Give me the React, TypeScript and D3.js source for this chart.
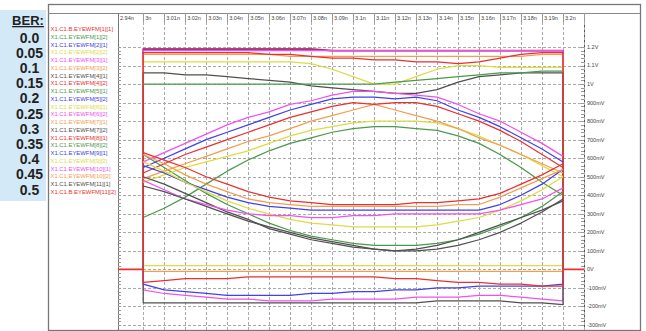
import * as d3 from 'd3';

// BER panel
const berLevels = ['0.0', '0.05', '0.1', '0.15', '0.2', '0.25', '0.3', '0.35', '0.4', '0.45', '0.5'];

// time axis (ns)
const timeLabels = ['2.94n', '3n', '3.01n', '3.02n', '3.03n', '3.04n', '3.05n', '3.06n', '3.07n', '3.08n', '3.09n', '3.1n', '3.11n', '3.12n', '3.13n', '3.14n', '3.15n', '3.16n', '3.17n', '3.18n', '3.19n', '3.2n'];
const gridTimes = [3.0, 3.01, 3.02, 3.03, 3.04, 3.05, 3.06, 3.07, 3.08, 3.09, 3.1, 3.11, 3.12, 3.13, 3.14, 3.15, 3.16, 3.17, 3.18, 3.19, 3.2, 3.21];
const sampleTimes = [3.0, 3.01, 3.02, 3.03, 3.04, 3.05, 3.06, 3.07, 3.08, 3.09, 3.1, 3.11, 3.12, 3.13, 3.14, 3.15, 3.16, 3.17, 3.18, 3.19, 3.2];

// voltage axis (V)
const voltTicks = [1.2, 1.1, 1.0, 0.9, 0.8, 0.7, 0.6, 0.5, 0.4, 0.3, 0.2, 0.1, 0, -0.1, -0.2, -0.3];
const voltLabels = ['1.2V', '1.1V', '1V', '900mV', '800mV', '700mV', '600mV', '500mV', '400mV', '300mV', '200mV', '100mV', '0V', '-100mV', '-200mV', '-300mV'];

// contour values at sampleTimes
const red1Top = [1.19, 1.19, 1.19, 1.19, 1.19, 1.19, 1.19, 1.19, 1.19, 1.18, 1.18, 1.18, 1.18, 1.18, 1.18, 1.18, 1.18, 1.18, 1.18, 1.18, 1.18];
const greenUpper = [0.28, 0.33, 0.39, 0.46, 0.53, 0.59, 0.64, 0.68, 0.71, 0.74, 0.76, 0.77, 0.77, 0.76, 0.75, 0.72, 0.68, 0.62, 0.55, 0.47, 0.4];
const blueOuterTop = [1.185, 1.185, 1.185, 1.185, 1.185, 1.185, 1.185, 1.185, 1.185, 1.18, 1.18, 1.18, 1.18, 1.18, 1.18, 1.18, 1.18, 1.18, 1.18, 1.18, 1.18];
const blueOuterBottom = [-0.08, -0.11, -0.12, -0.13, -0.14, -0.14, -0.14, -0.14, -0.13, -0.13, -0.12, -0.12, -0.11, -0.11, -0.1, -0.1, -0.09, -0.09, -0.09, -0.09, -0.08];
const yellowOuterTop = [1.12, 1.12, 1.12, 1.12, 1.12, 1.12, 1.12, 1.12, 1.11, 1.08, 1.04, 1.0, 1.0, 1.04, 1.08, 1.1, 1.1, 1.09, 1.09, 1.09, 1.09];
const yellowOuterBottom = [0.02, 0.02, 0.02, 0.02, 0.02, 0.02, 0.02, 0.02, 0.02, 0.02, 0.02, 0.02, 0.02, 0.02, 0.02, 0.02, 0.02, 0.02, 0.02, 0.02, 0.02];
const magentaOuterTop = [1.18, 1.18, 1.18, 1.18, 1.18, 1.18, 1.18, 1.18, 1.18, 1.18, 1.18, 1.18, 1.18, 1.18, 1.18, 1.18, 1.18, 1.18, 1.18, 1.18, 1.18];
const magentaOuterBottom = [-0.11, -0.13, -0.14, -0.15, -0.16, -0.16, -0.17, -0.17, -0.17, -0.16, -0.16, -0.16, -0.16, -0.15, -0.15, -0.15, -0.14, -0.14, -0.15, -0.16, -0.17];
const orangeOuterTop = [1.16, 1.16, 1.16, 1.16, 1.16, 1.16, 1.16, 1.15, 1.15, 1.15, 1.15, 1.15, 1.15, 1.15, 1.15, 1.15, 1.15, 1.15, 1.15, 1.16, 1.16];
const orangeOuterBottom = [-0.01, -0.01, -0.01, -0.01, -0.01, -0.01, -0.01, -0.01, -0.01, -0.01, -0.01, -0.01, -0.01, -0.01, -0.01, -0.01, -0.01, -0.01, -0.01, -0.01, -0.01];
const grayOuterTop = [1.06, 1.06, 1.05, 1.05, 1.04, 1.03, 1.02, 1.01, 0.99, 0.98, 0.97, 0.96, 0.95, 0.95, 0.97, 1.01, 1.04, 1.05, 1.06, 1.06, 1.06];
const grayOuterBottom = [-0.18, -0.18, -0.18, -0.18, -0.18, -0.18, -0.18, -0.18, -0.18, -0.18, -0.18, -0.18, -0.18, -0.18, -0.17, -0.17, -0.17, -0.17, -0.18, -0.18, -0.19];
const redOuterTop = [1.17, 1.17, 1.17, 1.17, 1.17, 1.17, 1.16, 1.16, 1.15, 1.14, 1.14, 1.13, 1.13, 1.12, 1.12, 1.11, 1.12, 1.14, 1.16, 1.17, 1.17];
const redOuterBottom = [-0.07, -0.06, -0.05, -0.05, -0.05, -0.04, -0.04, -0.04, -0.04, -0.04, -0.04, -0.04, -0.05, -0.05, -0.06, -0.07, -0.07, -0.08, -0.08, -0.09, -0.09];
const greenLower = [0.62, 0.55, 0.48, 0.41, 0.35, 0.3, 0.25, 0.21, 0.18, 0.16, 0.14, 0.13, 0.13, 0.13, 0.14, 0.16, 0.19, 0.23, 0.28, 0.34, 0.42];
const blueUpper = [0.55, 0.6, 0.65, 0.7, 0.74, 0.78, 0.82, 0.86, 0.89, 0.92, 0.93, 0.93, 0.92, 0.93, 0.91, 0.86, 0.82, 0.77, 0.71, 0.65, 0.58];
const yellowUpper = [0.47, 0.51, 0.55, 0.58, 0.61, 0.64, 0.68, 0.72, 0.75, 0.77, 0.79, 0.8, 0.8, 0.8, 0.79, 0.76, 0.72, 0.67, 0.62, 0.56, 0.5];
const magentaUpper = [0.58, 0.63, 0.68, 0.73, 0.78, 0.82, 0.85, 0.89, 0.91, 0.94, 0.96, 0.96, 0.95, 0.94, 0.93, 0.89, 0.84, 0.8, 0.74, 0.68, 0.61];
const orangeUpper = [0.49, 0.53, 0.57, 0.61, 0.65, 0.69, 0.72, 0.76, 0.8, 0.83, 0.86, 0.89, 0.86, 0.83, 0.8, 0.76, 0.71, 0.67, 0.62, 0.57, 0.52];
const grayLowerA = [0.5, 0.46, 0.41, 0.36, 0.31, 0.27, 0.22, 0.19, 0.16, 0.14, 0.12, 0.11, 0.1, 0.11, 0.13, 0.16, 0.2, 0.24, 0.28, 0.32, 0.37];
const redUpper = [0.52, 0.57, 0.62, 0.66, 0.7, 0.74, 0.78, 0.82, 0.85, 0.88, 0.9, 0.89, 0.9, 0.9, 0.88, 0.84, 0.8, 0.75, 0.69, 0.62, 0.55];
const greenTop = [1.0, 1.0, 1.0, 1.0, 1.0, 1.0, 1.0, 1.0, 1.0, 1.0, 1.0, 1.0, 1.01, 1.02, 1.03, 1.04, 1.05, 1.06, 1.06, 1.07, 1.07];
const blueLower = [0.56, 0.52, 0.47, 0.43, 0.39, 0.36, 0.34, 0.33, 0.32, 0.32, 0.32, 0.32, 0.32, 0.32, 0.32, 0.32, 0.32, 0.35, 0.4, 0.46, 0.54];
const yellowLower = [0.58, 0.53, 0.47, 0.42, 0.37, 0.33, 0.3, 0.27, 0.25, 0.24, 0.23, 0.23, 0.23, 0.23, 0.24, 0.26, 0.28, 0.32, 0.37, 0.43, 0.5];
const magentaLower = [0.48, 0.43, 0.38, 0.35, 0.32, 0.3, 0.29, 0.29, 0.28, 0.28, 0.29, 0.29, 0.3, 0.3, 0.3, 0.3, 0.3, 0.32, 0.35, 0.38, 0.44];
const orangeLower = [0.62, 0.57, 0.51, 0.46, 0.42, 0.38, 0.36, 0.35, 0.34, 0.34, 0.34, 0.34, 0.34, 0.34, 0.34, 0.35, 0.35, 0.39, 0.44, 0.49, 0.54];
const grayLowerB = [0.45, 0.42, 0.38, 0.34, 0.3, 0.26, 0.23, 0.2, 0.17, 0.15, 0.13, 0.11, 0.1, 0.1, 0.11, 0.13, 0.16, 0.2, 0.25, 0.31, 0.38];
const redLower = [0.63, 0.59, 0.55, 0.5, 0.46, 0.42, 0.39, 0.37, 0.36, 0.35, 0.35, 0.35, 0.35, 0.36, 0.36, 0.37, 0.38, 0.41, 0.46, 0.51, 0.57];

const RED = '#ec2f2f';
const GREEN = '#4a9a4a';
const BLUE = '#4040ee';
const YELLOW = '#dcdc44';
const MAGENTA = '#f052f0';
const ORANGE = '#f59c50';
const BLACK = '#505050';

type Series = {
    name: string;
    color: string;
    kind: 'rect' | 'loop' | 'arc';
    values: number[];
    lower?: number[];
    edge?: number;
};

const series: Series[] = [
    { name: 'X1.C1.B.EYEWFM[1][1]', color: RED, kind: 'rect', values: red1Top, edge: 0 },
    { name: 'X1.C1.EYEWFM[1][2]', color: GREEN, kind: 'arc', values: greenUpper },
    { name: 'X1.C1.EYEWFM[2][1]', color: BLUE, kind: 'loop', values: blueOuterTop, lower: blueOuterBottom },
    { name: 'X1.C1.EYEWFM[2][2]', color: YELLOW, kind: 'loop', values: yellowOuterTop, lower: yellowOuterBottom },
    { name: 'X1.C1.EYEWFM[3][1]', color: MAGENTA, kind: 'loop', values: magentaOuterTop, lower: magentaOuterBottom },
    { name: 'X1.C1.EYEWFM[3][2]', color: ORANGE, kind: 'loop', values: orangeOuterTop, lower: orangeOuterBottom },
    { name: 'X1.C1.EYEWFM[4][1]', color: BLACK, kind: 'loop', values: grayOuterTop, lower: grayOuterBottom },
    { name: 'X1.C1.EYEWFM[4][2]', color: RED, kind: 'loop', values: redOuterTop, lower: redOuterBottom },
    { name: 'X1.C1.EYEWFM[5][1]', color: GREEN, kind: 'arc', values: greenLower },
    { name: 'X1.C1.EYEWFM[5][2]', color: BLUE, kind: 'arc', values: blueUpper },
    { name: 'X1.C1.EYEWFM[6][1]', color: YELLOW, kind: 'arc', values: yellowUpper },
    { name: 'X1.C1.EYEWFM[6][2]', color: MAGENTA, kind: 'arc', values: magentaUpper },
    { name: 'X1.C1.EYEWFM[7][1]', color: ORANGE, kind: 'arc', values: orangeUpper },
    { name: 'X1.C1.EYEWFM[7][2]', color: BLACK, kind: 'arc', values: grayLowerA },
    { name: 'X1.C1.EYEWFM[8][1]', color: RED, kind: 'arc', values: redUpper },
    { name: 'X1.C1.EYEWFM[8][2]', color: GREEN, kind: 'arc', values: greenTop },
    { name: 'X1.C1.EYEWFM[9][1]', color: BLUE, kind: 'arc', values: blueLower },
    { name: 'X1.C1.EYEWFM[9][2]', color: YELLOW, kind: 'arc', values: yellowLower },
    { name: 'X1.C1.EYEWFM[10][1]', color: MAGENTA, kind: 'arc', values: magentaLower },
    { name: 'X1.C1.EYEWFM[10][2]', color: ORANGE, kind: 'arc', values: orangeLower },
    { name: 'X1.C1.EYEWFM[11][1]', color: BLACK, kind: 'arc', values: grayLowerB },
    { name: 'X1.C1.B.EYEWFM[11][2]', color: RED, kind: 'arc', values: redLower },
];

const frameLeft = 48;
const frameRight = 640;
const frameTop = 4;
const headerLine = 13;
const plotTop = 22;
const plotBottom = 330;
const plotLeft = 118;
const plotRight = 584;

export default function App() {
    const x = d3.scaleLinear().domain([2.988, 3.21]).range([plotLeft, plotRight]);
    const y = d3.scaleLinear().domain([-0.3, 1.2]).range([325, 47]);
    const line = d3
        .line<[number, number]>()
        .x(d => x(d[0]))
        .y(d => y(d[1]));

    const pts = (vals: number[]) => sampleTimes.map((t, i) => [t, vals[i]] as [number, number]);

    function pathFor(s: Series) {
        if (s.kind === 'rect') {
            const [t0, t1] = x.domain();
            const e = s.edge ?? 0;
            return line([[t0, e], [sampleTimes[0], e], ...pts(s.values), [sampleTimes[sampleTimes.length - 1], e], [t1, e]]);
        }
        if (s.kind === 'loop' && s.lower) {
            return line([...pts(s.values), ...pts(s.lower).reverse()]) + 'Z';
        }
        return line(pts(s.values));
    }

    const cellEdges = [plotLeft, ...gridTimes.slice(0, timeLabels.length - 1).map(t => x(t))];
    const minorTicks = d3.range(-0.3, 1.2001, 0.02);

    return (
        <svg
            width={646}
            height={331}
            style={{ position: 'absolute', left: 0, top: 0, background: '#fff', fontFamily: 'Liberation Sans, Arial, sans-serif' }}
        >
            {/* BER panel */}
            <rect x={0} y={10} width={46} height={191} fill="#d3e9f7" />
            <text x={28} y={25} textAnchor="middle" fontSize={13} fontWeight="bold" fill="#222" textDecoration="underline">
                BER:
            </text>
            {berLevels.map((b, i) => (
                <text key={b} x={29.5} y={42.5 + i * 15.2} textAnchor="middle" fontSize={14} fontWeight="bold" fill="#222">
                    {b}
                </text>
            ))}

            {/* frame */}
            <rect x={frameLeft + 0.5} y={frameTop + 0.5} width={frameRight - frameLeft} height={plotBottom - frameTop} fill="none" stroke="#777" strokeWidth={1.3} />
            <line x1={frameLeft} x2={frameRight} y1={headerLine + 0.5} y2={headerLine + 0.5} stroke="#888" />
            <line x1={plotLeft + 0.5} x2={plotLeft + 0.5} y1={headerLine} y2={plotBottom} stroke="#777" />
            <line x1={plotRight + 0.5} x2={plotRight + 0.5} y1={headerLine} y2={plotBottom} stroke="#555" />

            {/* vertical grid */}
            {gridTimes.map(t => (
                <g key={t}>
                    <line x1={Math.round(x(t)) + 0.5} x2={Math.round(x(t)) + 0.5} y1={headerLine} y2={plotTop} stroke="#999" />
                    <line x1={Math.round(x(t)) + 0.5} x2={Math.round(x(t)) + 0.5} y1={plotTop} y2={plotBottom} stroke="#aaa" strokeDasharray="3,2" />
                </g>
            ))}
            {/* horizontal grid */}
            {voltTicks.map(v => (
                <line key={v} x1={plotLeft} x2={plotRight} y1={Math.round(y(v)) + 0.5} y2={Math.round(y(v)) + 0.5} stroke="#aaa" strokeDasharray="3,2" />
            ))}
            {/* minor ticks */}
            {minorTicks.map(v => (
                <g key={v}>
                    <line x1={plotLeft} x2={plotLeft + 3} y1={Math.round(y(v)) + 0.5} y2={Math.round(y(v)) + 0.5} stroke="#999" />
                    <line x1={plotRight - 3} x2={plotRight} y1={Math.round(y(v)) + 0.5} y2={Math.round(y(v)) + 0.5} stroke="#999" />
                </g>
            ))}

            {/* time labels */}
            {timeLabels.map((l, i) => (
                <text key={l} x={cellEdges[i] + 2} y={19.5} fontSize={5.5} fill="#444">
                    {l}
                </text>
            ))}

            {/* voltage labels */}
            {voltTicks.map((v, i) => (
                <text key={v} x={plotRight + 3} y={y(v)} dy="0.35em" fontSize={5.5} fill="#444">
                    {voltLabels[i]}
                </text>
            ))}

            {/* curves */}
            {series.map(s => (
                <path key={s.name} d={pathFor(s) ?? ''} fill="none" stroke={s.color} strokeWidth={s.kind === 'rect' ? 1.7 : 1.25} strokeLinejoin="round" />
            ))}

            {/* legend */}
            {series.map((s, i) => (
                <text key={s.name} x={frameLeft + 2.5} y={31 + i * 7.75} fontSize={5.9} fill={s.color}>
                    {s.name}
                </text>
            ))}
        </svg>
    );
}
